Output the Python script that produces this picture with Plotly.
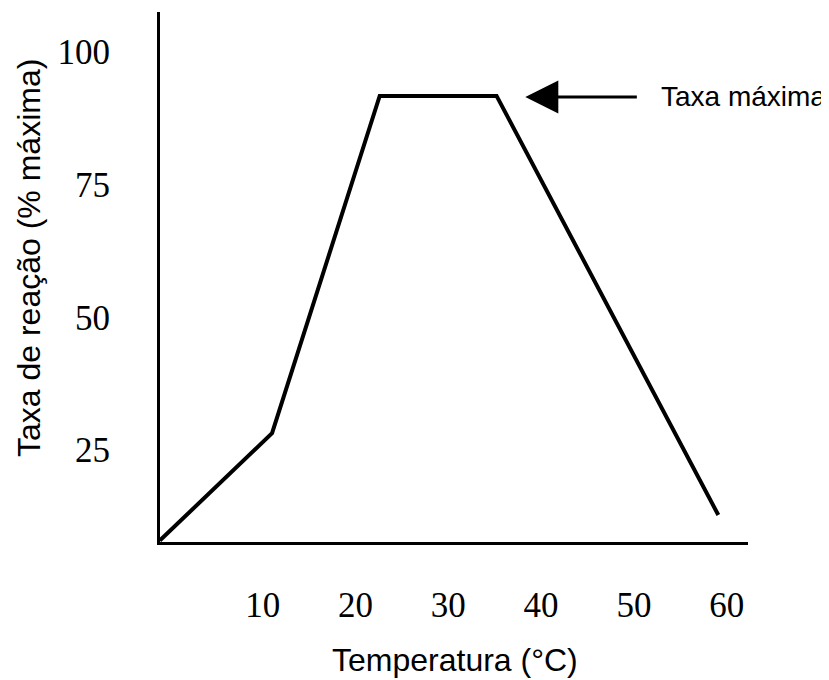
import plotly.graph_objects as go

# Data
temperatura = [-1.1, 11.0, 22.6, 35.2, 59.1]
taxa_reacao = [8.0, 28.2, 91.7, 91.7, 12.8]
x_tick_vals = [10, 20, 30, 40, 50, 60]
y_tick_vals = [25, 50, 75, 100]
x_title = "Temperatura (°C)"
y_title = "Taxa de reação (% máxima)"
note_text = "Taxa máxima"
note_x, note_y = 38.3, 91.5

# The page body has an 8px default margin; compensate so the window matches.
BODY = 8
W, H = 829 - BODY, 680 - BODY
ML, MR, MT, MB = 160 - BODY, 81, 12 - BODY, 138
PW = W - ML - MR
PH = H - MT - MB

serif = "Liberation Serif, Times New Roman, serif"
sans = "Liberation Sans, Arial, sans-serif"

fig = go.Figure(
    go.Scatter(
        x=temperatura, y=taxa_reacao, mode="lines",
        line=dict(color="black", width=4),
        cliponaxis=False, hoverinfo="skip",
    )
)

fig.update_layout(
    width=W, height=H, autosize=False,
    margin=dict(l=ML, r=MR, t=MT, b=MB, pad=0),
    paper_bgcolor="white", plot_bgcolor="white",
    showlegend=False,
    xaxis=dict(
        range=[-1.08, 62.3], tickvals=x_tick_vals, ticks="",
        showgrid=False, zeroline=False, showline=True,
        linecolor="black", linewidth=3,
        tickfont=dict(family=serif, size=35, color="black"),
        ticklabelstandoff=30,
    ),
    yaxis=dict(
        range=[7.72, 107.5], tickvals=y_tick_vals, ticks="",
        showgrid=False, zeroline=False, showline=True,
        linecolor="black", linewidth=3,
        tickfont=dict(family=serif, size=35, color="black"),
        ticklabelstandoff=40,
    ),
    annotations=[
        dict(
            x=note_x, y=note_y, xref="x", yref="y",
            ax=113, ay=0, text="", showarrow=True,
            arrowhead=2, arrowsize=2.2, arrowwidth=3, arrowcolor="black",
            standoff=0,
        ),
        dict(
            x=(659 - BODY - ML) / PW, y=note_y, xref="paper", yref="y",
            text=note_text, showarrow=False, xanchor="left", yanchor="middle",
            font=dict(family=sans, size=28, color="black"),
        ),
        dict(
            x=(455 - BODY - ML) / PW, y=(MT + PH - (660 - BODY)) / PH,
            xref="paper", yref="paper",
            text=x_title, showarrow=False, xanchor="center", yanchor="middle",
            font=dict(family=sans, size=32, color="black"),
        ),
        dict(
            x=(29 - BODY - ML) / PW, y=(MT + PH - (258 - BODY)) / PH,
            xref="paper", yref="paper",
            text=y_title, showarrow=False, xanchor="center", yanchor="middle",
            textangle=-90,
            font=dict(family=sans, size=32, color="black"),
        ),
    ],
)

fig.write_html("out.html")
